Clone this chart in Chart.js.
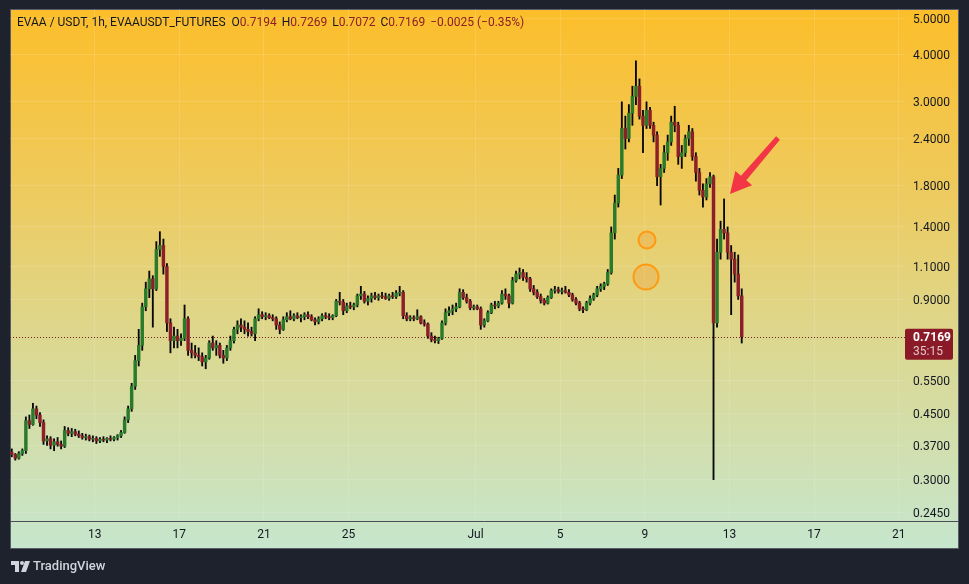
<!DOCTYPE html>
<html>
<head>
<meta charset="utf-8">
<script src="https://cdn.jsdelivr.net/npm/chart.js@4.4.0/dist/chart.umd.min.js"></script>
<style>
  html, body { margin: 0; padding: 0; background: #1e222d; }
  canvas { display: block; }
</style>
</head>
<body>
<canvas id="myChart" width="969" height="584"></canvas>
<script>
// 4h candles from 9 Jun 00:00 to 13 Jul 16:00, one row per day
var open = [
  .355, .350, .342, .352, .358, .430,
  .420, .462, .445, .425, .380, .385,
  .370, .378, .372, .368, .405, .398,
  .402, .396, .392, .388, .390, .384,
  .386, .380, .384, .382, .386, .384,
  .388, .392, .400, .432, .462, .530,
  .620, .680, .860, .960, 1.02, .960,
  1.22, 1.25, 1.10, .780, .700, .720,
  .700, .710, .800, .660, .650, .640,
  .635, .615, .630, .690, .670, .680,
  .640, .630, .670, .700, .750, .770,
  .760, .750, .740, .730, .800, .820,
  .810, .815, .805, .800, .770, .750,
  .795, .810, .800, .815, .805, .810,
  .820, .810, .795, .785, .800, .815,
  .810, .805, .815, .890, .885, .840,
  .865, .860, .870, .920, .930, .890,
  .905, .920, .910, .920, .915, .905,
  .920, .915, .935, .940, .815, .800,
  .805, .800, .810, .780, .775, .720,
  .705, .700, .710, .780, .830, .840,
  .850, .860, .940, .910, .890, .855,
  .860, .850, .770, .790, .830, .870,
  .865, .880, .930, .920, .880, 1.01,
  1.05, 1.06, 1.03, 1.02, .960, .940,
  .915, .895, .880, .910, .950, .955,
  .945, .950, .940, .925, .900, .880,
  .850, .845, .880, .905, .925, .960,
  .975, .990, 1.06, 1.35, 1.62, 1.92,
  2.55, 2.40, 2.80, 3.10, 3.30, 2.75,
  2.60, 2.85, 2.60, 2.45, 1.90, 2.00,
  2.20, 2.35, 2.65, 2.60, 2.15, 2.20,
  2.40, 2.50, 2.15, 1.95, 1.75, 1.68,
  1.82, 1.90, .780, 1.20, 1.38, 1.35,
  1.20, 1.15, 1.05, .920
];
var high = [
  .362, .352, .356, .362, .440, .445,
  .478, .470, .452, .432, .392, .390,
  .385, .388, .380, .415, .412, .410,
  .408, .404, .398, .396, .394, .392,
  .390, .388, .390, .388, .392, .390,
  .395, .405, .440, .470, .540, .640,
  .750, .880, 1.00, 1.07, 1.04, 1.28,
  1.36, 1.30, 1.12, .800, .760, .750,
  .730, .870, .810, .690, .680, .670,
  .650, .640, .700, .720, .700, .690,
  .660, .680, .720, .760, .790, .800,
  .790, .780, .760, .810, .850, .835,
  .830, .825, .820, .810, .785, .810,
  .830, .840, .825, .830, .820, .830,
  .835, .820, .805, .810, .825, .830,
  .825, .820, .900, .940, .900, .880,
  .885, .880, .930, .975, .945, .920,
  .935, .940, .930, .940, .935, .930,
  .940, .950, .975, .950, .830, .815,
  .815, .845, .815, .795, .780, .735,
  .720, .715, .790, .850, .860, .870,
  .880, .960, .955, .930, .900, .870,
  .870, .860, .800, .840, .880, .890,
  .890, .950, .960, .930, 1.03, 1.07,
  1.09, 1.08, 1.06, 1.03, .980, .955,
  .930, .905, .920, .960, .975, .970,
  .965, .975, .955, .935, .910, .890,
  .860, .890, .920, .935, .975, .990,
  1.00, 1.08, 1.40, 1.70, 2.00, 3.00,
  2.75, 2.95, 3.30, 3.85, 3.45, 2.85,
  3.00, 2.90, 2.65, 2.50, 2.05, 2.30,
  2.45, 2.75, 2.92, 2.65, 2.30, 2.45,
  2.60, 2.55, 2.20, 2.00, 1.82, 1.88,
  1.95, 1.92, 1.30, 1.45, 1.66, 1.40,
  1.25, 1.20, 1.18, .960
];
var low = [
  .345, .338, .340, .348, .352, .410,
  .418, .435, .415, .372, .370, .362,
  .358, .368, .362, .365, .392, .390,
  .392, .388, .384, .382, .380, .378,
  .374, .376, .378, .376, .380, .380,
  .382, .388, .398, .425, .455, .520,
  .600, .660, .840, .910, .760, .950,
  1.17, 1.05, .740, .650, .670, .670,
  .680, .700, .640, .630, .630, .620,
  .600, .590, .625, .660, .640, .630,
  .610, .620, .660, .690, .730, .740,
  .730, .720, .720, .700, .790, .800,
  .795, .800, .790, .750, .730, .745,
  .785, .795, .790, .800, .785, .795,
  .800, .790, .770, .775, .790, .800,
  .795, .795, .810, .870, .820, .830,
  .850, .845, .860, .900, .880, .870,
  .885, .900, .895, .905, .900, .895,
  .905, .905, .920, .800, .790, .790,
  .790, .795, .775, .765, .710, .695,
  .690, .688, .705, .770, .815, .820,
  .835, .855, .900, .880, .845, .845,
  .845, .750, .760, .785, .825, .850,
  .855, .875, .900, .855, .875, 1.00,
  1.02, 1.01, 1.00, .945, .925, .905,
  .880, .870, .875, .905, .935, .935,
  .930, .935, .915, .890, .870, .840,
  .830, .840, .870, .895, .915, .945,
  .955, .980, 1.05, 1.30, 1.58, 1.88,
  2.25, 2.35, 2.60, 2.95, 2.70, 2.20,
  2.55, 2.55, 2.35, 1.80, 1.60, 1.95,
  2.10, 2.30, 2.50, 2.05, 2.00, 2.15,
  2.30, 2.10, 1.85, 1.70, 1.58, 1.65,
  1.78, .300, .760, 1.15, 1.30, 1.15,
  .820, 1.00, .900, .690
];
var close = [
  .350, .342, .352, .358, .430, .420,
  .462, .445, .425, .380, .385, .370,
  .378, .372, .368, .405, .398, .402,
  .396, .392, .388, .390, .384, .386,
  .380, .384, .382, .386, .384, .388,
  .392, .400, .432, .462, .530, .620,
  .680, .860, .960, 1.02, .960, 1.22,
  1.25, 1.10, .780, .700, .720, .700,
  .710, .800, .660, .650, .640, .635,
  .615, .630, .690, .670, .680, .640,
  .630, .670, .700, .750, .770, .760,
  .750, .740, .730, .800, .820, .810,
  .815, .805, .800, .770, .750, .795,
  .810, .800, .815, .805, .810, .820,
  .810, .795, .785, .800, .815, .810,
  .805, .815, .890, .885, .840, .865,
  .860, .870, .920, .930, .890, .905,
  .920, .910, .920, .915, .905, .920,
  .915, .935, .940, .815, .800, .805,
  .800, .810, .780, .775, .720, .705,
  .700, .710, .780, .830, .840, .850,
  .860, .940, .910, .890, .855, .860,
  .850, .770, .790, .830, .870, .865,
  .880, .930, .920, .880, 1.01, 1.05,
  1.06, 1.03, 1.02, .960, .940, .915,
  .895, .880, .910, .950, .955, .945,
  .950, .940, .925, .900, .880, .850,
  .845, .880, .905, .925, .960, .975,
  .990, 1.06, 1.35, 1.62, 1.92, 2.55,
  2.40, 2.80, 3.10, 3.30, 2.75, 2.60,
  2.85, 2.60, 2.45, 1.90, 2.00, 2.20,
  2.35, 2.65, 2.60, 2.15, 2.20, 2.40,
  2.50, 2.15, 1.95, 1.75, 1.68, 1.82,
  1.90, .780, 1.20, 1.38, 1.35, 1.20,
  1.15, 1.05, .920, .7169
];

var startDay = 9;          // 9 June, x unit = day of June (31 = 1 Jul)
var candleDays = 4 / 24;   // 4h candles
var times = close.map(function (c, i) { return startDay + (i + 0.5) * candleDays; });

var xTickDays = [13, 17, 21, 25, 31, 35, 39, 43, 47, 51];
var xTickLabels = ['13', '17', '21', '25', 'Jul', '5', '9', '13', '17', '21'];
var yTicks = [5.0, 4.0, 3.0, 2.4, 1.8, 1.4, 1.1, 0.9, 0.55, 0.45, 0.37, 0.30, 0.245];
var lastPrice = 0.7169;

var UP = '#2a7a2c', DOWN = '#8c1f28';
var FONT = 'Roboto, "Liberation Sans", sans-serif';

function noPad(scale) {
  scale.paddingTop = 0;
  scale.paddingBottom = 0;
  scale.paddingLeft = 0;
  scale.paddingRight = 0;
}

var decor = {
  id: 'decor',
  beforeDraw: function (chart) {
    var c = chart.ctx;
    c.save();
    c.fillStyle = '#1e222d';
    c.fillRect(0, 0, 969, 584);
    var g = c.createLinearGradient(0, 9, 0, 549);
    g.addColorStop(0, '#fcbe2a');
    g.addColorStop(0.35, '#edcb60');
    g.addColorStop(0.6, '#ddd78d');
    g.addColorStop(1, '#c6e6cd');
    c.fillStyle = g;
    c.fillRect(10, 9, 949, 540);
    c.strokeStyle = '#585c68';
    c.lineWidth = 1;
    c.strokeRect(10.5, 9.5, 948, 539);
    c.restore();
  },
  beforeDatasetsDraw: function (chart) {
    var c = chart.ctx, a = chart.chartArea;
    var y = Math.round(chart.scales.y.getPixelForValue(lastPrice)) + 0.5;
    c.save();
    c.strokeStyle = '#7d1c1c';
    c.lineWidth = 1;
    c.setLineDash([1, 2]);
    c.beginPath();
    c.moveTo(a.left, y);
    c.lineTo(a.right, y);
    c.stroke();
    c.restore();
  },
  afterDatasetsDraw: function (chart) {
    var c = chart.ctx;
    c.save();
    // circles
    [[647, 240, 8.5], [646, 277, 12.5]].forEach(function (o) {
      c.beginPath();
      c.arc(o[0], o[1], o[2], 0, Math.PI * 2);
      c.fillStyle = 'rgba(240,160,60,0.35)';
      c.fill();
      c.lineWidth = 2;
      c.strokeStyle = '#ff9a10';
      c.stroke();
    });
    // arrow
    var tip = [730, 194], tail = [778, 138];
    var dx = tip[0] - tail[0], dy = tip[1] - tail[1];
    var len = Math.sqrt(dx * dx + dy * dy);
    var ux = dx / len, uy = dy / len, px = -uy, py = ux;
    var bx = tip[0] - ux * 21, by = tip[1] - uy * 21;
    c.fillStyle = '#f23645';
    c.beginPath();
    c.moveTo(tail[0] + px * 2.5, tail[1] + py * 2.5);
    c.lineTo(bx + px * 3.5, by + py * 3.5);
    c.lineTo(bx + px * 11, by + py * 11);
    c.lineTo(tip[0], tip[1]);
    c.lineTo(bx - px * 11, by - py * 11);
    c.lineTo(bx - px * 3.5, by - py * 3.5);
    c.lineTo(tail[0] - px * 2.5, tail[1] - py * 2.5);
    c.closePath();
    c.fill();
    c.restore();
  },
  afterDraw: function (chart) {
    var c = chart.ctx;
    c.save();
    // x axis line
    c.strokeStyle = '#4a4d57';
    c.lineWidth = 1;
    c.beginPath();
    c.moveTo(10, 521.5);
    c.lineTo(959, 521.5);
    c.stroke();

    // title line
    c.font = '12px ' + FONT;
    c.textBaseline = 'middle';
    var x = 17, yT = 23;
    var parts = [
      ['EVAA / USDT, 1h, EVAAUSDT_FUTURES', '#131722', 6],
      ['O', '#131722', 0], ['0.7194', DOWN, 5],
      ['H', '#131722', 0], ['0.7269', DOWN, 5],
      ['L', '#131722', 0], ['0.7072', DOWN, 5],
      ['C', '#131722', 0], ['0.7169', DOWN, 5],
      ['\u22120.0025 (\u22120.35%)', DOWN, 0]
    ];
    parts.forEach(function (p) {
      c.fillStyle = p[1];
      c.fillText(p[0], x, yT);
      x += c.measureText(p[0]).width + p[2];
    });

    // last price label
    var yP = chart.scales.y.getPixelForValue(lastPrice);
    c.fillStyle = '#8a1a27';
    c.beginPath();
    c.roundRect(905, yP - 8, 48, 31, 2);
    c.fill();
    c.font = 'bold 12px ' + FONT;
    c.fillStyle = '#ffffff';
    c.fillText('0.7169', 913, yP + 1);
    c.font = '12px ' + FONT;
    c.fillStyle = 'rgba(255,255,255,0.75)';
    c.fillText('35:15', 913, yP + 15);

    // TradingView logo
    c.fillStyle = '#d1d4dc';
    c.fillRect(11, 561, 8, 4);
    c.fillRect(15, 561, 4, 11);
    c.beginPath();
    c.arc(22, 563, 2, 0, Math.PI * 2);
    c.fill();
    c.beginPath();
    c.moveTo(25, 561); c.lineTo(30, 561); c.lineTo(26, 572); c.lineTo(21, 572);
    c.closePath();
    c.fill();
    c.font = '500 13px ' + FONT;
    c.fillText('TradingView', 33, 567);
    c.restore();
  }
};

var ctx = document.getElementById('myChart').getContext('2d');
var myChart = new Chart(ctx, {
  type: 'bar',
  data: {
    datasets: [{
      label: 'body',
      order: 1,
      data: times.map(function (t, i) { return { x: t, y: [open[i], close[i]] }; }),
      backgroundColor: close.map(function (c, i) { return c >= open[i] ? UP : DOWN; }),
      barThickness: 2.8,
      grouped: false
    }, {
      label: 'wick',
      order: 2,
      data: times.map(function (t, i) { return { x: t, y: [low[i], high[i]] }; }),
      backgroundColor: '#080808',
      barThickness: 1.2,
      grouped: false
    }]
  },
  options: {
    responsive: false,
    devicePixelRatio: 1,
    animation: false,
    layout: { padding: { left: 10, right: 10, top: 9, bottom: 35 } },
    plugins: { legend: { display: false }, tooltip: { enabled: false } },
    scales: {
      x: {
        type: 'linear',
        offset: false,
        min: 9,
        max: 51.3,
        grid: { color: 'rgba(255,255,255,0.13)', drawTicks: false, offset: false },
        border: { display: false },
        afterBuildTicks: function (scale) {
          scale.ticks = xTickDays.map(function (v) { return { value: v }; });
        },
        afterFit: function (scale) { scale.height = 28; noPad(scale); },
        ticks: {
          autoSkip: false,
          maxRotation: 0,
          padding: 7,
          color: '#131722',
          font: { family: FONT, size: 12 },
          callback: function (v, i) { return xTickLabels[i]; }
        }
      },
      y: {
        type: 'logarithmic',
        position: 'right',
        min: 0.2333,
        max: 5.282,
        grid: { color: 'rgba(255,255,255,0.13)', drawTicks: false },
        border: { display: false },
        afterBuildTicks: function (scale) {
          scale.ticks = yTicks.map(function (v) { return { value: v }; });
        },
        afterFit: function (scale) { scale.width = 54; noPad(scale); },
        ticks: {
          padding: 8,
          labelOffset: 1.5,
          color: '#131722',
          font: { family: FONT, size: 12 },
          callback: function (v) { return Number(v).toFixed(4); }
        }
      }
    }
  },
  plugins: [decor]
});
</script>
</body>
</html>
